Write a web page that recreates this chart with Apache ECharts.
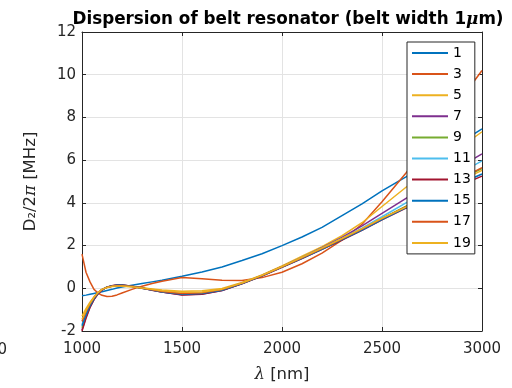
<!DOCTYPE html>
<html>
<head>
<meta charset="utf-8">
<script src="https://cdn.jsdelivr.net/npm/echarts@6/dist/echarts.min.js"></script>
<style>
    html, body { margin: 0; padding: 0; background: #fff; }
    #main { width: 512px; height: 388px; }
</style>
</head>
<body>
<div id="main"></div>
<script>
// wavelength samples [nm]
var lambda = [1000, 1020, 1040, 1060, 1080, 1100, 1125, 1150, 1175, 1200, 1250, 1300, 1350, 1400, 1500, 1600, 1700, 1800, 1900, 2000, 2100, 2200, 2300, 2400, 2500, 2620, 3000];

// D2/2pi [MHz] per mode
var mode1 = [-0.35, -0.32, -0.28, -0.24, -0.2, -0.16, -0.1, -0.05, 0.01, 0.06, 0.14, 0.22, 0.3, 0.38, 0.56, 0.76, 1.0, 1.3, 1.62, 2.0, 2.4, 2.85, 3.4, 3.95, 4.56, 5.22, 7.46];
var mode3 = [1.6, 0.75, 0.3, -0.05, -0.22, -0.33, -0.38, -0.37, -0.31, -0.22, -0.05, 0.1, 0.22, 0.33, 0.5, 0.45, 0.38, 0.36, 0.5, 0.75, 1.15, 1.65, 2.25, 3.0, 4.05, 5.4, 10.2];
var mode5 = [-1.3, -0.95, -0.65, -0.4, -0.2, -0.06, 0.04, 0.08, 0.1, 0.1, 0.07, 0.02, -0.03, -0.08, -0.14, -0.12, -0.01, 0.27, 0.63, 1.05, 1.5, 1.95, 2.46, 3.07, 3.83, 4.73, 7.33];
var mode7 = [-1.95, -1.35, -0.88, -0.52, -0.26, -0.08, 0.05, 0.12, 0.15, 0.15, 0.1, 0.01, -0.08, -0.17, -0.3, -0.27, -0.1, 0.22, 0.6, 1.02, 1.45, 1.9, 2.38, 2.92, 3.51, 4.21, 6.29];
var mode9 = [-1.85, -1.3, -0.85, -0.5, -0.24, -0.06, 0.05, 0.11, 0.14, 0.14, 0.09, 0.01, -0.07, -0.15, -0.27, -0.24, -0.08, 0.23, 0.59, 1.0, 1.42, 1.85, 2.3, 2.77, 3.27, 3.85, 5.6];
var mode11 = [-1.7, -1.2, -0.78, -0.46, -0.22, -0.05, 0.06, 0.11, 0.13, 0.13, 0.08, 0.0, -0.08, -0.16, -0.26, -0.23, -0.07, 0.24, 0.6, 1.01, 1.44, 1.88, 2.34, 2.82, 3.35, 4.0, 5.97];
var mode13 = [-2.0, -1.4, -0.9, -0.53, -0.26, -0.08, 0.05, 0.12, 0.15, 0.15, 0.1, 0.01, -0.09, -0.18, -0.31, -0.28, -0.1, 0.21, 0.57, 0.98, 1.39, 1.82, 2.26, 2.71, 3.2, 3.75, 5.25];
var mode15 = [-1.75, -1.25, -0.82, -0.48, -0.23, -0.06, 0.05, 0.11, 0.14, 0.14, 0.09, 0.0, -0.08, -0.17, -0.28, -0.25, -0.09, 0.22, 0.58, 0.99, 1.4, 1.83, 2.28, 2.73, 3.22, 3.78, 5.35];
var mode17 = [-1.55, -1.1, -0.73, -0.43, -0.2, -0.05, 0.05, 0.1, 0.12, 0.12, 0.08, 0.0, -0.07, -0.15, -0.24, -0.21, -0.06, 0.24, 0.6, 1.01, 1.43, 1.86, 2.31, 2.77, 3.26, 3.82, 5.65];
var mode19 = [-1.45, -1.05, -0.7, -0.42, -0.2, -0.05, 0.04, 0.09, 0.11, 0.11, 0.07, 0.01, -0.05, -0.11, -0.19, -0.17, -0.04, 0.25, 0.61, 1.02, 1.45, 1.88, 2.33, 2.79, 3.28, 3.8, 5.52];

var modeNames = ["1", "3", "5", "7", "9", "11", "13", "15", "17", "19"];
var modeData = [mode1, mode3, mode5, mode7, mode9, mode11, mode13, mode15, mode17, mode19];
var modeColors = ["#0072BD", "#D95319", "#EDB120", "#7E2F8E", "#77AC30", "#4DBEEE", "#A2142F", "#0072BD", "#D95319", "#EDB120"];

var FONT = "'DejaVu Sans', sans-serif";
var SYMFONT = "'DejaVu Serif', serif";
var AXIS_COLOR = "#262626";
var GRID_COLOR = "#e3e3e3";

var myChart = echarts.init(document.getElementById("main"), null, { renderer: "canvas" });

var series = [];
for (var i = 0; i < modeData.length; i++) {
    var pts = [];
    for (var k = 0; k < lambda.length; k++) {
        pts.push([lambda[k], modeData[i][k]]);
    }
    series.push({
        name: modeNames[i],
        type: "line",
        data: pts,
        symbol: "none",
        smooth: false,
        clip: true,
        lineStyle: { color: modeColors[i], width: 1.5 },
        itemStyle: { color: modeColors[i] }
    });
}

var option = {
    backgroundColor: "#fff",
    animation: false,
    title: {
        text: "{t|Dispersion of belt resonator (belt width 1}{mu|μ}{t|m)}",
        left: 283,
        top: 6,
        textAlign: "center",
        textStyle: {
            rich: {
                t: { fontFamily: FONT, fontSize: 16.8, fontWeight: "bold", color: "#000" },
                mu: { fontFamily: SYMFONT, fontSize: 16.8, fontStyle: "italic", color: "#000" }
            }
        }
    },
    grid: { left: 82, right: 30, top: 32, bottom: 57, containLabel: false },
    legend: {
        orient: "vertical",
        left: 407,
        top: 42,
        padding: [4, 4, 4, 4],
        itemWidth: 36,
        itemHeight: 14,
        itemGap: 7.1,
        backgroundColor: "#fff",
        borderColor: AXIS_COLOR,
        borderWidth: 1,
        data: modeNames,
        itemStyle: { opacity: 0 },
        textStyle: { fontFamily: FONT, fontSize: 14, lineHeight: 14, color: "#000" }
    },
    xAxis: [{
        type: "value",
        min: 1000,
        max: 3000,
        interval: 500,
        name: "{l|λ} [nm]",
        nameLocation: "middle",
        nameGap: 35,
        nameTextStyle: {
            fontFamily: FONT, fontSize: 16.5, color: AXIS_COLOR,
            rich: { l: { fontFamily: SYMFONT, fontStyle: "italic", fontSize: 16.5, color: AXIS_COLOR } }
        },
        axisLine: { show: true, onZero: false, lineStyle: { color: AXIS_COLOR, width: 1 } },
        axisTick: { show: true, inside: true, length: 4, lineStyle: { color: AXIS_COLOR } },
        axisLabel: {
            fontFamily: FONT, fontSize: 15, color: AXIS_COLOR, margin: 11,
            formatter: function (v) { return String(v); }
        },
        splitLine: { show: true, lineStyle: { color: GRID_COLOR, width: 1 } }
    }, {
        type: "value",
        position: "top",
        min: 1000,
        max: 3000,
        interval: 500,
        axisLine: { show: true, onZero: false, lineStyle: { color: AXIS_COLOR, width: 1 } },
        axisTick: { show: true, inside: true, length: 4, lineStyle: { color: AXIS_COLOR } },
        axisLabel: { show: false },
        splitLine: { show: false }
    }],
    yAxis: [{
        type: "value",
        min: -2,
        max: 12,
        interval: 2,
        name: "D₂/2{p|π} [MHz]",
        nameLocation: "middle",
        nameGap: 43,
        nameRotate: 90,
        nameTextStyle: {
            fontFamily: FONT, fontSize: 16.5, color: AXIS_COLOR,
            rich: { p: { fontFamily: SYMFONT, fontStyle: "italic", fontSize: 16.5, color: AXIS_COLOR } }
        },
        axisLine: { show: true, onZero: false, lineStyle: { color: AXIS_COLOR, width: 1 } },
        axisTick: { show: true, inside: true, length: 4, lineStyle: { color: AXIS_COLOR } },
        axisLabel: { fontFamily: FONT, fontSize: 15, color: AXIS_COLOR, margin: 6 },
        splitLine: { show: true, lineStyle: { color: GRID_COLOR, width: 1 } }
    }, {
        type: "value",
        position: "right",
        min: -2,
        max: 12,
        interval: 2,
        axisLine: { show: true, onZero: false, lineStyle: { color: AXIS_COLOR, width: 1 } },
        axisTick: { show: true, inside: true, length: 4, lineStyle: { color: AXIS_COLOR } },
        axisLabel: { show: false },
        splitLine: { show: false }
    }],
    graphic: [{
        // tick label cut off at the page edge
        type: "text",
        x: 7,
        y: 350,
        style: { text: "500", fontFamily: FONT, fontSize: 15, fill: AXIS_COLOR, align: "right", verticalAlign: "middle" }
    }],
    series: series
};

myChart.setOption(option);
</script>
</body>
</html>
